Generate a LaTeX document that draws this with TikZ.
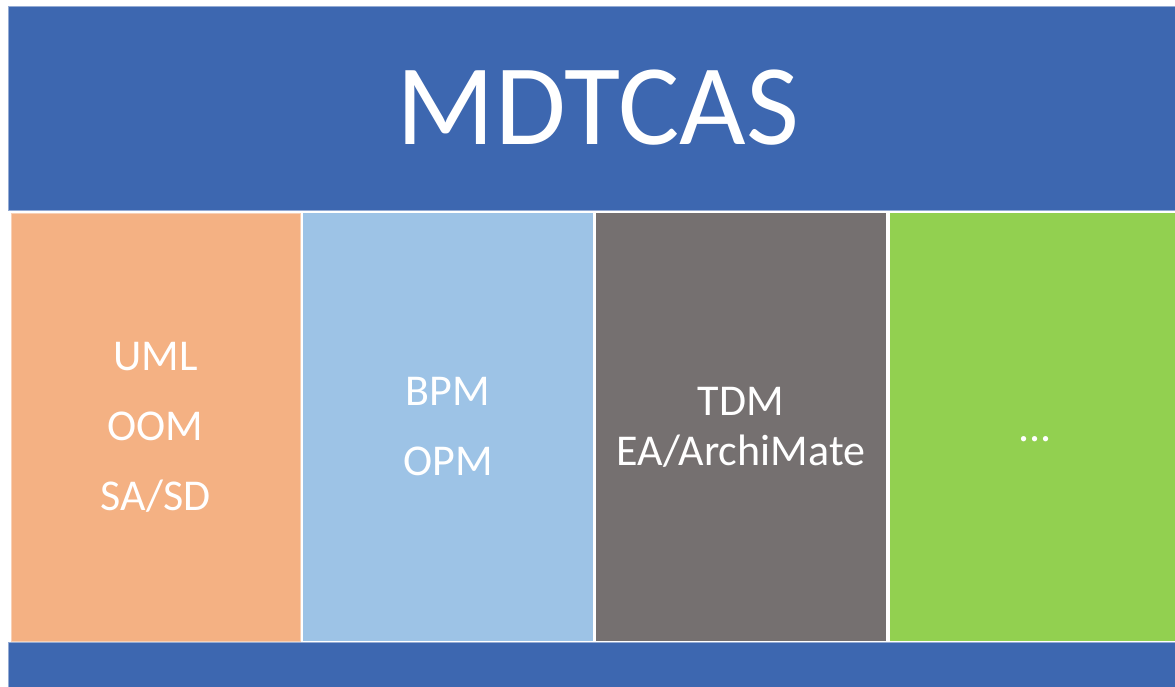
\documentclass[tikz,border=0pt]{standalone}
\usepackage{fontspec}
\setmainfont{Carlito}
\usepackage{tikz}
\usetikzlibrary{positioning}
\definecolor{bandblue}{HTML}{3D67B0}
\definecolor{umlcol}{HTML}{F4B183}
\definecolor{bpmcol}{HTML}{9DC3E6}
\definecolor{tdmcol}{HTML}{757070}
\definecolor{morecol}{HTML}{92D050}

\begin{document}
\begin{tikzpicture}[x=1pt, y=-1pt,
  band/.style={rectangle, fill=bandblue, draw=bandblue!55!white, line width=0.8pt, anchor=north west, outer sep=0pt, text=white},
  col/.style={rectangle, minimum height=428pt, outer sep=0pt, inner sep=0pt, align=center, text=white, font=\fontsize{44}{50}\selectfont},]
\useasboundingbox (0,0) rectangle (1175,687);
\fill[white] (0,0) rectangle (1175,687);
%Nodes
\node[band, minimum width=1180pt, minimum height=204pt, font=\fontsize{115}{120}\selectfont] (mdtcas) at (8,6) {MDTCAS};
\node[col, fill=umlcol, draw=umlcol!60!white, minimum width=289pt, below right=3pt and 3pt of mdtcas.south west, anchor=north west] (uml) {UML\\[20pt]OOM\\[20pt]SA/SD};
\node[col, fill=bpmcol, minimum width=290pt, right=3pt of uml] (bpm) {BPM\\[20pt]OPM};
\node[col, fill=tdmcol, minimum width=290pt, right=3pt of bpm] (tdm) {TDM\\EA/ArchiMate};
\node[col, fill=morecol, minimum width=290pt, right=4pt of tdm] (more) {\rule[-8pt]{0pt}{44pt}...};
\node[band, minimum width=1180pt, minimum height=50pt] (bottom) at (8,642) {};

\end{tikzpicture}
\end{document}
